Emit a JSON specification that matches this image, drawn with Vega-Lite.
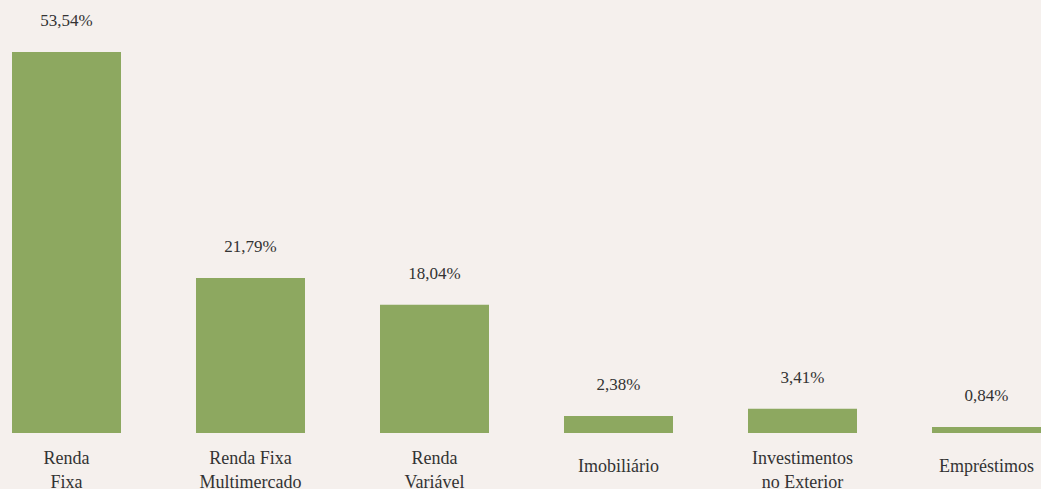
{
  "$schema": "https://vega.github.io/schema/vega-lite/v6.json",
  "width": 1029,
  "height": 433,
  "autosize": {"type": "none"},
  "padding": {"left": 12, "top": 0, "right": 0, "bottom": 56},
  "background": "#F5F0ED",
  "config": {"view": {"stroke": null}},
  "data": {
    "values": [
      {"category": "Renda|Fixa", "value": 53.54, "label": "53,54%"},
      {"category": "Renda Fixa|Multimercado", "value": 21.79, "label": "21,79%"},
      {"category": "Renda|Variável", "value": 18.04, "label": "18,04%"},
      {"category": "Imobiliário", "value": 2.38, "label": "2,38%"},
      {"category": "Investimentos|no Exterior", "value": 3.41, "label": "3,41%"},
      {"category": "Empréstimos", "value": 0.84, "label": "0,84%"}
    ]
  },
  "encoding": {
    "x": {
      "field": "category",
      "type": "nominal",
      "sort": null,
      "scale": {"paddingInner": 0.4076, "paddingOuter": 0},
      "axis": {
        "title": null,
        "domain": false,
        "ticks": false,
        "labelAngle": 0,
        "labelExpr": "split(datum.value, '|')",
        "labelBaseline": "middle",
        "labelPadding": {"condition": {"test": "indexof(datum.value, '|') >= 0", "value": 25}, "value": 33},
        "labelLineHeight": 24,
        "labelFont": "Liberation Serif",
        "labelFontSize": 18,
        "labelColor": "#333333",
        "labelOverlap": false
      }
    },
    "y": {
      "field": "value",
      "type": "quantitative",
      "scale": {"domain": [0, 60.85], "nice": false},
      "axis": null
    }
  },
  "layer": [
    {"mark": {"type": "bar", "color": "#8DA860"}},
    {
      "mark": {
        "type": "text",
        "dy": -31,
        "baseline": "middle",
        "font": "Liberation Serif",
        "fontSize": 17,
        "color": "#333333"
      },
      "encoding": {"text": {"field": "label", "type": "nominal"}}
    }
  ]
}
